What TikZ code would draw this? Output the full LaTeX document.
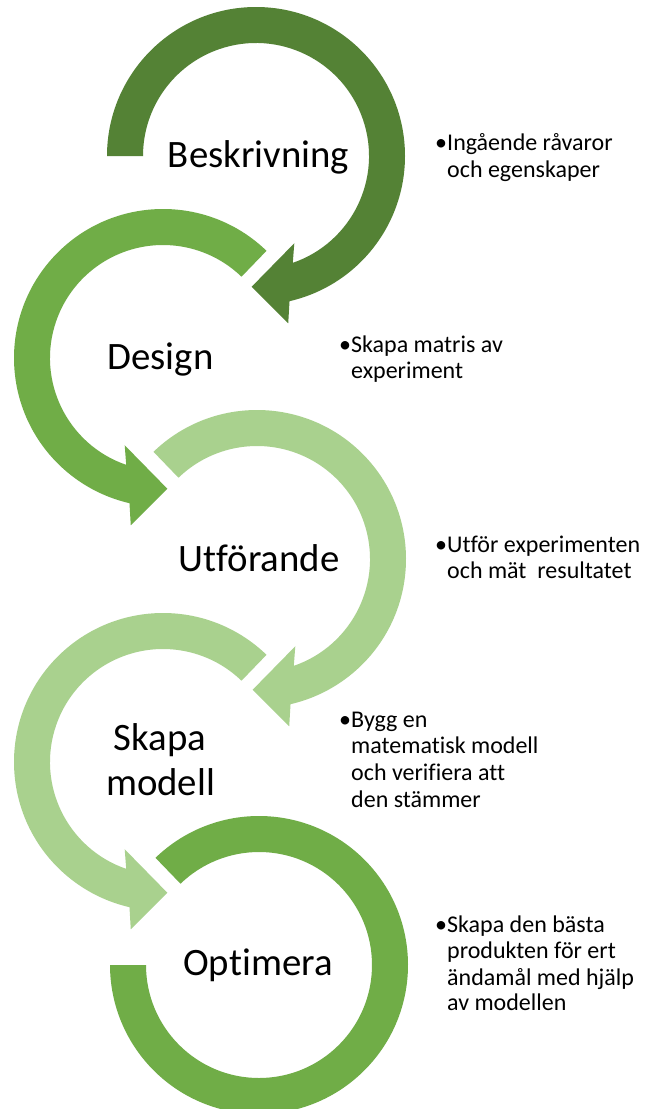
\documentclass[tikz,border=0pt]{standalone}
\usepackage{fontspec}
\setmainfont[Ligatures=NoCommon]{Carlito}
\definecolor{gdark}{HTML}{548235}
\definecolor{gmid}{HTML}{70AD47}
\definecolor{glight}{HTML}{A9D18E}
% #1,#2 centre (screen px), #3 start angle (local), #4 colour, #5 xscale
\newcommand{\ringarrow}[5]{%
  \begin{scope}[shift={(#1,-#2)},xscale=#5]
    \fill[#4] (#3:149pt) arc[start angle=#3,end angle=-77,radius=149pt]
      -- (-79.1:170.4pt) -- (-91.9:130.8pt) -- (-66.3:95.3pt)
      -- (-71:113pt) arc[start angle=-71,end angle=#3,radius=113pt] -- cycle;
  \end{scope}}
\begin{document}
\begin{tikzpicture}[x=1pt,y=1pt,
  stagetext/.style={font=\fontsize{38.8}{45}\selectfont,inner sep=0pt,anchor=base},
  notetext/.style={font=\fontsize{24}{26.5}\selectfont,inner sep=0pt,anchor=base west},
  bulletmark/.style={font=\fontsize{24}{26.5}\selectfont,inner sep=0pt,anchor=base}]
\clip (0,0) rectangle (646,-1109);
\fill[white] (0,0) rectangle (646,-1109);

% arrows
\ringarrow{256}{156}{180}{gdark}{1}
\ringarrow{163}{358}{134}{gmid}{-1}
\ringarrow{257}{559}{134}{glight}{1}
\ringarrow{163}{762}{134}{glight}{-1}
\begin{scope}[shift={(259,-965)}]
  \fill[gmid] (134:149pt) arc[start angle=134,end angle=-180,radius=149pt]
    -- (180:113pt) arc[start angle=-180,end angle=134,radius=113pt] -- cycle;
\end{scope}

% stage labels
\node[stagetext] (s1) at (258.5,-167) {Beskrivning};
\node[stagetext] (s2) at (160.5,-369) {Design};
\node[stagetext] (s3) at (259,-571) {Utförande};
\node[stagetext] (s4a) at (160,-750) {Skapa};
\node[stagetext] (s4b) at (160.5,-795) {modell};
\node[stagetext] (s5) at (258,-975) {Optimera};

% notes 1
\node[bulletmark] (b1) at (441,-150) {•};
\node[notetext] (n1a) at (447,-150) {Ingående råvaror};
\node[notetext] (n1b) at (447,-177) {och egenskaper};
% notes 2
\node[bulletmark] (b2) at (345,-352) {•};
\node[notetext] (n2a) at (351,-352) {Skapa matris av};
\node[notetext] (n2b) at (351,-378) {experiment};
% notes 3
\node[bulletmark] (b3) at (441,-552) {•};
\node[notetext] (n3a) at (447,-552) {Utför experimenten};
\node[notetext] (n3b) at (447,-578) {och mät~ resultatet};
% notes 4
\node[bulletmark] (b4) at (345,-727) {•};
\node[notetext] (n4a) at (351,-727) {Bygg en};
\node[notetext] (n4b) at (351,-753) {matematisk modell};
\node[notetext] (n4c) at (351,-780) {och verifiera att};
\node[notetext] (n4d) at (351,-807) {den stämmer};
% notes 5
\node[bulletmark] (b5) at (441,-932) {•};
\node[notetext] (n5a) at (447,-932) {Skapa den bästa};
\node[notetext] (n5b) at (447,-958) {produkten för ert};
\node[notetext] (n5c) at (447,-985) {ändamål med hjälp};
\node[notetext] (n5d) at (447,-1010) {av modellen};
\end{tikzpicture}
\end{document}
